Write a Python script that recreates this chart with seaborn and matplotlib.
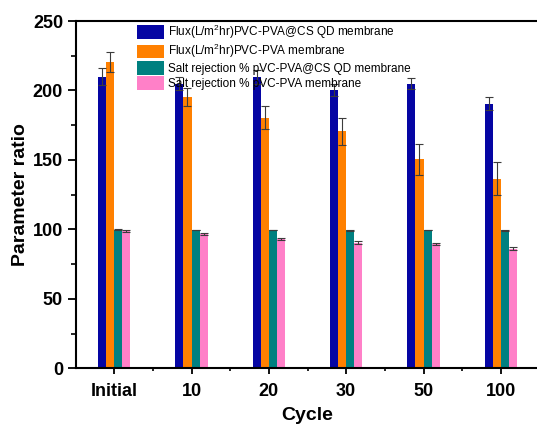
import matplotlib
matplotlib.use("Agg")
import matplotlib.pyplot as plt
import numpy as np
import pandas as pd
import seaborn as sns
from matplotlib.ticker import MultipleLocator, FixedLocator

# Categories and series
cycles = ["Initial", "10", "20", "30", "50", "100"]
series = [
    "Flux(L/m$^2$hr)PVC-PVA@CS QD membrane",
    "Flux(L/m$^2$hr)PVC-PVA membrane",
    "Salt rejection % pVC-PVA@CS QD membrane",
    "Salt rejection % pVC-PVA membrane",
]

# Values per series (one entry per cycle)
flux_qd = [210, 205, 210, 200.5, 205, 190.5]
flux_qd_err = [6, 5, 5, 4.5, 4, 4.5]
flux_plain = [220.5, 195.5, 180.5, 170.5, 150.5, 136.5]
flux_plain_err = [7.5, 6.5, 8.5, 9.5, 11, 12]
salt_qd = [99.8, 99.5, 99.5, 99.4, 99.5, 99.3]
salt_qd_err = [0.3, 0.3, 0.3, 0.3, 0.3, 0.3]
salt_plain = [98.8, 96.8, 93.0, 90.5, 89.4, 86.2]
salt_plain_err = [0.5, 0.8, 1.0, 1.0, 1.0, 1.2]

colors = ["#0505A3", "#FF8000", "#008080", "#FF80C8"]

values = [flux_qd, flux_plain, salt_qd, salt_plain]
errors = [flux_qd_err, flux_plain_err, salt_qd_err, salt_plain_err]

df = pd.DataFrame(
    [(c, s, v) for s, vals in zip(series, values) for c, v in zip(cycles, vals)],
    columns=["Cycle", "Series", "Value"],
)

sns.set_style("ticks")
plt.rcParams["font.family"] = ["Liberation Sans", "DejaVu Sans"]
plt.rcParams["mathtext.fontset"] = "custom"
plt.rcParams["mathtext.rm"] = "Liberation Sans"
plt.rcParams["mathtext.it"] = "Liberation Sans:italic"
plt.rcParams["mathtext.bf"] = "Liberation Sans:bold"
for key in ["text.color", "axes.labelcolor", "xtick.color", "ytick.color", "axes.edgecolor"]:
    plt.rcParams[key] = "black"

W, H = 537, 424
fig = plt.figure(figsize=(W / 100, H / 100), dpi=100)
x_left, x_right, y_top, y_bot = 75.5, 539.5, 21.0, 368.3
ax = fig.add_axes([x_left / W, 1 - y_bot / H, (x_right - x_left) / W, (y_bot - y_top) / H])

sns.barplot(
    data=df, x="Cycle", y="Value", hue="Series",
    order=cycles, hue_order=series, palette=colors,
    width=0.42, gap=0, errorbar=None, saturation=1,
    linewidth=0, ax=ax,
)

# Error bars on top of each bar
for cont, errs in zip(ax.containers, errors):
    xs = [b.get_x() + b.get_width() / 2 for b in cont]
    ys = [b.get_height() for b in cont]
    ax.errorbar(xs, ys, yerr=errs, fmt="none", ecolor="#3c3c3c",
                elinewidth=0.8, capsize=2.6, capthick=0.8, zorder=5)

ax.set_xlim(-0.5, 5.5)
ax.set_ylim(0, 250)
ax.yaxis.set_major_locator(MultipleLocator(50))
ax.yaxis.set_minor_locator(MultipleLocator(25))
ax.xaxis.set_minor_locator(FixedLocator([0.5, 1.5, 2.5, 3.5, 4.5]))

for sp in ax.spines.values():
    sp.set_linewidth(1.5)
    sp.set_color("black")

ax.tick_params(axis="y", which="major", direction="out", length=6, width=1.3, labelsize=13, pad=3)
ax.tick_params(axis="y", which="minor", direction="out", length=3.5, width=1.2)
ax.tick_params(axis="x", which="major", direction="out", length=4.5, width=1.3, labelsize=13, pad=6)
ax.tick_params(axis="x", which="minor", direction="out", length=2.5, width=1.2)
for lbl in ax.get_xticklabels() + ax.get_yticklabels():
    lbl.set_fontweight("bold")

ax.set_xlabel("Cycle", fontsize=14, fontweight="bold", labelpad=5)
ax.set_ylabel("Parameter ratio", fontsize=14, fontweight="bold", labelpad=2.5)

handles, labels = ax.get_legend_handles_labels()
ax.legend(
    handles, labels, loc="upper left",
    bbox_to_anchor=(137.3 / W, 1 - 23 / H), bbox_transform=fig.transFigure,
    frameon=False, fontsize=8.5, handlelength=2.3, handleheight=1.4,
    labelspacing=0.08, handletextpad=0.3, borderpad=0, borderaxespad=0,
)

fig.savefig("out.png", dpi=100, facecolor="white")
